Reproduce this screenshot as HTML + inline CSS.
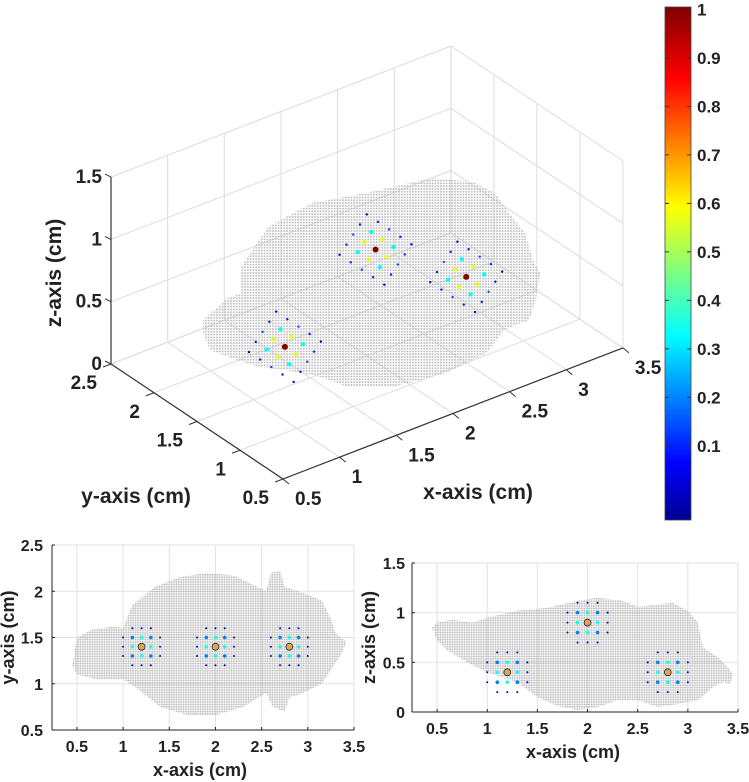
<!DOCTYPE html>
<html><head><meta charset="utf-8"><style>
html,body{margin:0;padding:0;background:#fff;}
svg{display:block;}
text{font-family:"Liberation Sans Narrow","Liberation Sans",sans-serif;font-weight:bold;fill:#222;}
</style></head><body>
<svg id="fig" width="749" height="782" viewBox="0 0 749 782" xmlns="http://www.w3.org/2000/svg">
<defs>
<pattern id="dots" width="2.8" height="2.8" patternUnits="userSpaceOnUse"><circle cx="1.4" cy="1.4" r="0.95" fill="#b9b9b9"/></pattern>
<pattern id="dots2" width="2.4" height="2.4" patternUnits="userSpaceOnUse"><circle cx="1.2" cy="1.2" r="0.95" fill="#bdbdbd"/></pattern>
<linearGradient id="jet" x1="0" y1="1" x2="0" y2="0">
<stop offset="0" stop-color="#00008f"/><stop offset="0.11" stop-color="#0000ff"/><stop offset="0.36" stop-color="#00ffff"/><stop offset="0.61" stop-color="#ffff00"/><stop offset="0.86" stop-color="#ff0000"/><stop offset="1" stop-color="#800000"/>
</linearGradient>
</defs>
<g id="g3d"></g>
<g id="gcb"></g>
<g id="gtop"></g>
<g id="gside"></g>
</svg>
<script>
// ---- data ----
const sourcesX = [1.2, 2.0, 2.8];
const sourcesY = [1.4, 1.4, 1.4];
const sourcesZ = [0.4, 0.9, 0.4];
const kernelOffsets = [-0.2, -0.1, 0, 0.1, 0.2];
const kernel3d = [
 [0.08,0.15,0.20,0.15,0.08],
 [0.15,0.38,0.60,0.38,0.15],
 [0.20,0.60,1.00,0.60,0.20],
 [0.15,0.38,0.60,0.38,0.15],
 [0.08,0.15,0.20,0.15,0.08]
];
const kernel2d = [
 [0.00,0.06,0.10,0.06,0.00],
 [0.06,0.25,0.40,0.25,0.06],
 [0.10,0.40,1.00,0.40,0.10],
 [0.06,0.25,0.40,0.25,0.06],
 [0.00,0.06,0.10,0.06,0.00]
];
const xTicks = [0.5,1,1.5,2,2.5,3,3.5];
const yTicks3d = [0.5,1,1.5,2,2.5];
const zTicks3d = [0,0.5,1,1.5];
const cbTicks = [0.1,0.2,0.3,0.4,0.5,0.6,0.7,0.8,0.9,1];
const topYTicks = [0.5,1,1.5,2,2.5];
const sideZTicks = [0,0.5,1,1.5];
const topOutlineX = [0.45,0.5,0.65,0.9,1.0,1.1,1.35,1.6,1.9,2.2,2.45,2.55,2.6,2.7,2.75,2.95,3.15,3.25,3.3,3.42,3.35,3.25,3.15,2.95,2.8,2.75,2.62,2.55,2.3,2.0,1.7,1.4,1.15,1.0,0.7,0.5];
const topOutlineY = [1.2,1.5,1.58,1.62,1.6,1.85,2.05,2.15,2.2,2.17,2.05,2.0,2.2,2.22,2.05,1.98,1.9,1.7,1.55,1.45,1.3,1.15,1.0,0.9,0.85,0.7,0.75,0.9,0.75,0.66,0.66,0.75,0.95,1.05,1.05,1.1];
const sideOutlineX = [0.45,0.5,0.65,0.85,1.0,1.3,1.6,1.9,2.1,2.35,2.5,2.7,2.85,3.0,3.1,3.15,3.3,3.4,3.45,3.42,3.35,3.25,3.1,2.9,2.7,2.5,2.3,2.1,1.9,1.7,1.5,1.3,1.15,1.0,0.8,0.6,0.5];
const sideOutlineZ = [0.85,0.9,0.93,0.9,0.95,1.02,1.05,1.12,1.15,1.12,1.06,1.08,1.1,1.02,0.9,0.65,0.55,0.45,0.38,0.28,0.3,0.25,0.12,0.08,0.05,0.12,0.12,0.05,0.02,0.06,0.15,0.3,0.35,0.4,0.5,0.62,0.72];
const brain3dPath = "M203,320 L228,298 L241,293 L241,267 L268,227 L312,203 L366,193 L415,182 L433,178 L473,182 L495,193 L509,213 L525,233 L533,260 L540,273 L536,300 L529,320 L504,330 L487,353 L446,373 L393,387 L348,387 L321,377 L286,370 L259,367 L237,360 L210,350 L203,333 Z";

const NS="http://www.w3.org/2000/svg";
function mk(tag, attrs, parent){const e=document.createElementNS(NS,tag);for(const k in attrs)e.setAttribute(k,attrs[k]);parent.appendChild(e);return e;}
function jet(v){v=Math.max(0,Math.min(1,v));
 const r=Math.max(0,Math.min(1,1.5-Math.abs(4*v-3))),g=Math.max(0,Math.min(1,1.5-Math.abs(4*v-2))),b=Math.max(0,Math.min(1,1.5-Math.abs(4*v-1)));
 return `rgb(${Math.round(r*255)},${Math.round(g*255)},${Math.round(b*255)})`;}

// ---- 3D projection ----
const O={x:283,y:479};
function P(x,y,z){return [O.x+(x-0.5)*113.3-(y-0.5)*86, O.y-(x-0.5)*43.7-(y-0.5)*57.5-z*124.6];}
const g3=document.getElementById('g3d');
function line3(a,b,stroke,w,name){const p=P(...a),q=P(...b);const l=mk('line',{x1:p[0],y1:p[1],x2:q[0],y2:q[1],stroke:stroke,'stroke-width':w},g3);return l;}
const gc='#dcdcdc';
xTicks.forEach(x=>{line3([x,0.5,0],[x,2.5,0],gc,1,'floor-grid-x');line3([x,2.5,0],[x,2.5,1.5],gc,1,'wall-grid-x');});
yTicks3d.forEach(y=>{line3([0.5,y,0],[3.5,y,0],gc,1,'floor-grid-y');line3([3.5,y,0],[3.5,y,1.5],gc,1,'wall-grid-y');});
zTicks3d.forEach(z=>{line3([0.5,2.5,z],[3.5,2.5,z],gc,1,'wall-grid-z');line3([3.5,2.5,z],[3.5,0.5,z],gc,1,'wall-grid-z2');});
const bp=mk('path',{d:brain3dPath,fill:'url(#dots)'},g3);


line3([0.5,2.5,0],[0.5,2.5,1.5],'#333',1.2,'z-axis-line');
line3([0.5,0.5,0],[0.5,2.5,0],'#333',1.2,'y-axis-line');
line3([0.5,0.5,0],[3.5,0.5,0],'#333',1.2,'x-axis-line');
zTicks3d.forEach(z=>{const p=P(0.5,2.5,z);mk('line',{x1:p[0]-6,y1:p[1]-3,x2:p[0],y2:p[1],stroke:'#333'},g3);
 const t=mk('text',{x:p[0]-9,y:p[1]+6,'text-anchor':'end','font-size':19},g3);t.textContent=String(z);
 });
yTicks3d.forEach(y=>{const p=P(0.5,y,0);mk('line',{x1:p[0],y1:p[1],x2:p[0]-8,y2:p[1]+3,stroke:'#333'},g3);
 const t=mk('text',{x:p[0]-14,y:p[1]+25,'text-anchor':'end','font-size':19},g3);t.textContent=String(y);
 });
xTicks.forEach(x=>{const p=P(x,0.5,0);mk('line',{x1:p[0],y1:p[1],x2:p[0]+6,y2:p[1]+5,stroke:'#333'},g3);
 const t=mk('text',{x:p[0]+12,y:p[1]+26,'text-anchor':'start','font-size':19},g3);t.textContent=String(x);
 });
{let t=mk('text',{x:0,y:0,'font-size':21,'text-anchor':'middle',transform:'translate(61,273) rotate(-90)'},g3);t.textContent='z-axis (cm)';
 t=mk('text',{x:136,y:503,'font-size':21,'text-anchor':'middle'},g3);t.textContent='y-axis (cm)';
 t=mk('text',{x:478,y:499,'font-size':21,'text-anchor':'middle'},g3);t.textContent='x-axis (cm)';}
// source clusters: grid in a tilted plane through each source
sourcesX.forEach((sx,s)=>{kernelOffsets.forEach((da,i)=>{kernelOffsets.forEach((dy,j)=>{const v=kernel3d[i][j];if(v<0.03)return;
 const p=P(sx+da*0.6,sourcesY[s]+dy*1.3,sourcesZ[s]+da*0.6);
 const c=mk('circle',{cx:p[0],cy:p[1],r:v>0.9?3:(v>0.3?2.2:1.2),fill:jet(v)},g3);
 });});});

// ---- colorbar ----
const gcb=document.getElementById('gcb');
const cbTop=7,cbBot=520,cbMax=1.005,cbMin=-0.053;
function cbY(v){return cbTop+(cbMax-v)/(cbMax-cbMin)*(cbBot-cbTop);}
{const r=mk('rect',{x:665,y:cbTop,width:26,height:cbBot-cbTop,fill:'url(#jet)',stroke:'#444','stroke-width':0.8},gcb);}
cbTicks.forEach(v=>{const y=cbY(v);mk('line',{x1:687,y1:y,x2:691,y2:y,stroke:'#333'},gcb);mk('line',{x1:665,y1:y,x2:669,y2:y,stroke:'#333'},gcb);
 const t=mk('text',{x:697,y:y+6,'font-size':17},gcb);t.textContent=String(v);});

// ---- 2D panels ----
function panel(gid,L,R,T,B,xmin,xmax,ymin,ymax,yTicks,ytitle,ylabX,xtitleY,ytitleX,xtitleX,sources2,outX,outY,pname){
 const g=document.getElementById(gid);
 const sx=x=>L+(x-xmin)/(xmax-xmin)*(R-L), sy=y=>B-(y-ymin)/(ymax-ymin)*(B-T);
 xTicks.forEach(x=>mk('line',{x1:sx(x),y1:T,x2:sx(x),y2:B,stroke:'#e2e2e2'},g));
 yTicks.forEach(y=>mk('line',{x1:L,y1:sy(y),x2:R,y2:sy(y),stroke:'#e2e2e2'},g));
 mk('rect',{x:L,y:T,width:R-L,height:B-T,fill:'none',stroke:'#e2e2e2'},g);
 const pts=outX.map((x,i)=>sx(x).toFixed(1)+','+sy(outY[i]).toFixed(1)).join(' ');
 const poly=mk('polygon',{points:pts,fill:'url(#dots2)'},g);
 
 sources2.xs.forEach((cx,s)=>{const cy=sources2.ys[s];
  kernelOffsets.forEach((dy,i)=>kernelOffsets.forEach((dx,j)=>{const v=kernel2d[i][j];if(v<0.03)return;
   const c=mk('circle',{cx:sx(cx+dx),cy:sy(cy+dy),r:v>0.9?2.6:(v>0.2?1.8:1.0),fill:v>0.9?'#e8a040':jet(v)},g);
   }));
  mk('circle',{cx:sx(cx),cy:sy(cy),r:3.4,fill:'none',stroke:'#222','stroke-width':0.9},g);});
 mk('line',{x1:L,y1:T,x2:L,y2:B,stroke:'#222'},g);mk('line',{x1:L,y1:B,x2:R,y2:B,stroke:'#222'},g);
 xTicks.forEach(x=>{mk('line',{x1:sx(x),y1:B,x2:sx(x),y2:B-3,stroke:'#222'},g);
  const t=mk('text',{x:sx(x),y:B+22,'font-size':16,'text-anchor':'middle'},g);t.textContent=String(x);});
 yTicks.forEach(y=>{mk('line',{x1:L,y1:sy(y),x2:L+3,y2:sy(y),stroke:'#222'},g);
  const t=mk('text',{x:ylabX,y:sy(y)+6,'font-size':16,'text-anchor':'end'},g);t.textContent=String(y);});
 let t=mk('text',{x:xtitleX,y:xtitleY,'font-size':18,'text-anchor':'middle'},g);t.textContent='x-axis (cm)';
 t=mk('text',{x:0,y:0,'font-size':18,'text-anchor':'middle',transform:`translate(${ytitleX},${(T+B)/2}) rotate(-90)`},g);t.textContent=ytitle;
}
panel('gtop',52,354,545,730,0.23,3.5,0.5,2.5,topYTicks,'y-axis (cm)',43,776,14,200,{xs:sourcesX,ys:sourcesY},topOutlineX,topOutlineY,'top-view');
panel('gside',412,738,563,712,0.25,3.5,0,1.5,sideZTicks,'z-axis (cm)',405,758,375,573,{xs:sourcesX,ys:sourcesZ},sideOutlineX,sideOutlineZ,'side-view');
</script>
</body></html>
